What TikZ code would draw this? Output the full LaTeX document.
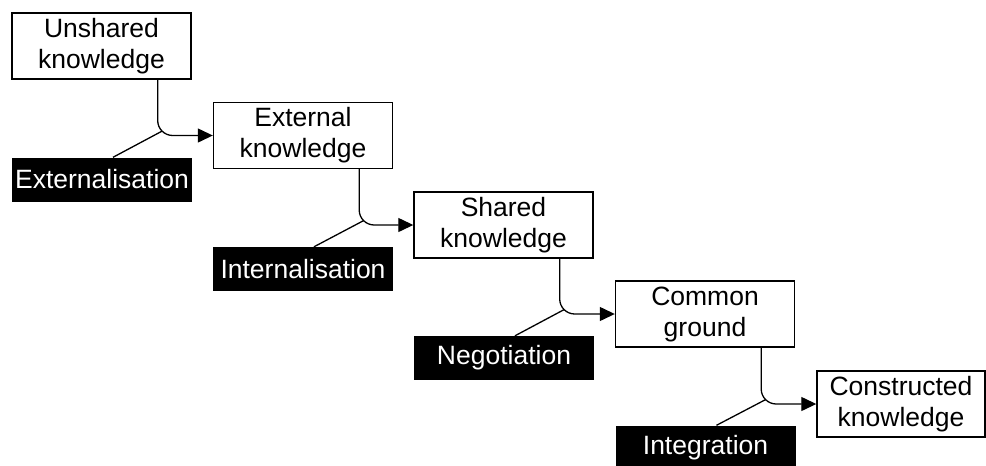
\documentclass[tikz,border=0pt]{standalone}
\usepackage{fontspec}
\setmainfont{Liberation Sans}
\usetikzlibrary{arrows.meta,calc}
\begin{document}
\begin{tikzpicture}[
  stage/.style={draw=black, line width=1.4pt, fill=white, minimum width=179pt, minimum height=66pt,
    inner sep=0pt, align=center, font=\fontsize{26.5}{31}\selectfont},
  proc/.style={fill=black, text=white, minimum width=180pt, minimum height=44pt,
    inner sep=0pt, font=\fontsize{26.5}{31}\selectfont},
  flow/.style={line width=1.3pt, rounded corners=15pt, -{Triangle[length=15pt,width=14pt]}},
  lab/.style={line width=1.3pt}
]
\useasboundingbox (0pt,0pt) rectangle (986pt,-466pt);
% stages
\node[stage] (b1) at (101.5pt,-46pt) {Unshared\\knowledge};
\node[stage] (b2) at (303pt,-135.5pt) {External\\knowledge};
\node[stage] (b3) at (503.5pt,-225pt) {Shared\\knowledge};
\node[stage] (b4) at (705pt,-314pt) {Common\\ground};
\node[stage, minimum width=168pt] (b5) at (901pt,-404pt) {Constructed\\knowledge};
% processes
\node[proc] (p1) at (102pt,-179.5pt) {Externalisation};
\node[proc] (p2) at (303pt,-269pt) {Internalisation};
\node[proc] (p3) at (504pt,-358pt) {Negotiation};
\node[proc] (p4) at (705.5pt,-447.5pt) {Integration};
% connectors
\foreach \a/\b/\p in {b1/b2/p1, b2/b3/p2, b3/b4/p3, b4/b5/p4}{
  \coordinate (s-\a) at ([xshift=-34pt]\a.south east);
  \coordinate (k-\a) at (s-\a |- \b.west);
  \coordinate (m-\a) at ([shift={(4.4pt,4.4pt)}]k-\a);
  \draw[flow] (s-\a) |- (\b.west);
  \draw[lab] ([xshift=11pt]\p.north) -- (m-\a);
}
\end{tikzpicture}
\end{document}
